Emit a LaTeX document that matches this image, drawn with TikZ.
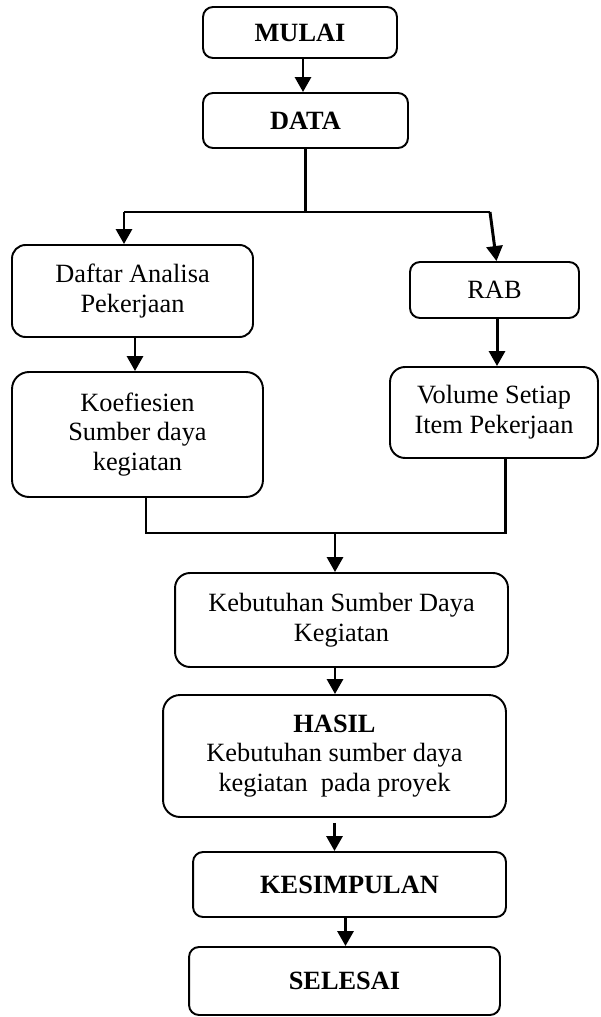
\documentclass[tikz,border=0pt]{standalone}
\usepackage{fontspec}
\setmainfont{Liberation Serif}
\usetikzlibrary{arrows.meta}

\begin{document}
\begin{tikzpicture}[x=0.02cm,y=-0.02cm,
        box/.style={draw,line width=1.1pt,rounded corners=0.2cm,align=center,inner sep=0pt,
            font=\fontsize{15}{17}\selectfont},
        bigbox/.style={box,rounded corners=0.34cm},
        line/.style={line width=1.7pt},
        arrow/.style={line,-{Triangle[length=0.3cm,width=0.32cm]}}]
        \useasboundingbox (0,0) rectangle (600,1017);

        \node[box,minimum width=3.88cm,minimum height=1.02cm] (mulai) at (300,32.5) {\textbf{MULAI}};
        \node[box,minimum width=4.10cm,minimum height=1.10cm] (data) at (305.5,120.5) {\textbf{DATA}};
        \node[bigbox,rounded corners=0.27cm,minimum width=4.82cm,minimum height=1.84cm] (daftar) at (132.5,291) {Daftar Analisa\\Pekerjaan};
        \node[box,minimum width=3.38cm,minimum height=1.12cm] (rab) at (494.5,290) {RAB};
        \node[bigbox,minimum width=5.02cm,minimum height=2.50cm] (koef) at (137.5,434.5) {Koefiesien\\Sumber daya\\kegiatan};
        \node[bigbox,rounded corners=0.3cm,minimum width=4.16cm,minimum height=1.82cm] (volume) at (494,412.5) {Volume Setiap\\Item Pekerjaan};
        \node[bigbox,rounded corners=0.3cm,minimum width=6.66cm,minimum height=1.88cm] (kebutuhan) at (341.5,620) {Kebutuhan Sumber Daya\\Kegiatan};
        \node[bigbox,minimum width=6.86cm,minimum height=2.44cm] (hasil) at (334.5,756) {\textbf{HASIL}\\Kebutuhan sumber daya\\kegiatan\ \ pada proyek};
        \node[box,minimum width=6.26cm,minimum height=1.30cm] (kesimpulan) at (349.5,884.5) {\textbf{KESIMPULAN}};
        \node[box,minimum width=6.22cm,minimum height=1.36cm] (selesai) at (344.5,981) {\textbf{SELESAI}};

        \coordinate (jl) at (124,212);
        \coordinate (jr) at (490,212);
        \coordinate (kb) at (146,533);
        \coordinate (vb) at (505,533);
        \coordinate (mj) at (335,533);

        \draw[arrow] (303,0 |- mulai.south) -- (303,0 |- data.north);
        \draw[line] (data.south) -- (data.south |- jl);
        \draw[line] (jl) -- (jr);
        \draw[arrow] (jl) -- (jl |- daftar.north);
        \draw[arrow] (jr) -- ([xshift=0.04cm]rab.north);
        \draw[arrow] ([xshift=0.05cm]daftar.south) -- ([xshift=0.05cm]daftar.south |- koef.north);
        \draw[arrow] ([xshift=0.05cm]rab.south) -- ([xshift=0.05cm]rab.south |- volume.north);
        \draw[line] (kb |- koef.south) -- (kb) -- (vb) -- (vb |- volume.south);
        \draw[arrow] (mj) -- (mj |- kebutuhan.north);
        \draw[arrow] (mj |- kebutuhan.south) -- (mj |- hasil.north);
        \draw[arrow] ([yshift=-0.1cm]hasil.south) -- (hasil.south |- kesimpulan.north);
        \draw[arrow] ([xshift=-0.08cm]kesimpulan.south) -- ([xshift=-0.08cm]kesimpulan.south |- selesai.north);
    \end{tikzpicture}
\end{document}
